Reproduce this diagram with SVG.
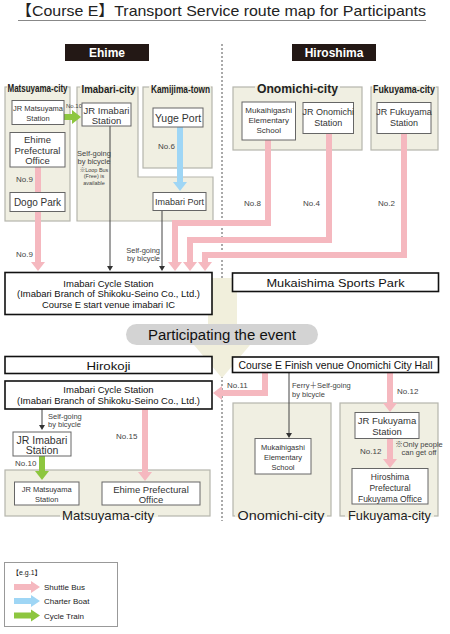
<svg xmlns="http://www.w3.org/2000/svg" width="450" height="634" viewBox="0 0 450 634">
<defs>
<style>
text{font-family:"Liberation Sans",Arial,"Noto Sans CJK JP",sans-serif;fill:#222}
.region{fill:#f0efe2;stroke:#b5b5ac;stroke-width:1.2}
.gap{fill:#f0efe2}
.node{fill:#fff;stroke:#666;stroke-width:1}
.main{fill:#fff;stroke:#111;stroke-width:1.6}
.pink{stroke:#f5b8bf;stroke-width:6;fill:none}
.blue{stroke:#9fd6f5;stroke-width:6;fill:none}
.green{stroke:#8dc63f;stroke-width:6;fill:none}
.thin{stroke:#444;stroke-width:1;fill:none}
.lbl{fill:#444}
.nt{fill:#333;text-anchor:middle}
.rl{font-weight:bold;text-anchor:middle}
.rb{text-anchor:middle;font-size:13px}
.mt{text-anchor:middle;fill:#111}
.hdr{fill:#231815}
.hdrt{fill:#fff;font-weight:bold;font-size:12px;text-anchor:middle}
</style>
<marker id="hp" markerUnits="userSpaceOnUse" markerWidth="9" markerHeight="14" refX="0" refY="7" orient="auto"><path d="M0,0L9,7L0,14z" fill="#f5b8bf"/></marker>
<marker id="hb" markerUnits="userSpaceOnUse" markerWidth="9" markerHeight="14" refX="0" refY="7" orient="auto"><path d="M0,0L9,7L0,14z" fill="#9fd6f5"/></marker>
<marker id="hg" markerUnits="userSpaceOnUse" markerWidth="9" markerHeight="14" refX="0" refY="7" orient="auto"><path d="M0,0L9,7L0,14z" fill="#8dc63f"/></marker>
<marker id="hk" markerUnits="userSpaceOnUse" markerWidth="5" markerHeight="6" refX="0" refY="3" orient="auto"><path d="M0,0L5,3L0,6z" fill="#333"/></marker>
</defs>

<!-- title -->
<g id="title">
<text x="16" y="16" font-size="15" textLength="410" lengthAdjust="spacingAndGlyphs">【Course E】Transport Service route map for Participants</text>
<line x1="18" y1="20.5" x2="426" y2="20.5" stroke="#888" stroke-width="1"/>
</g>

<!-- divider -->
<line x1="222" y1="44" x2="222" y2="521" stroke="#555" stroke-width="1" stroke-dasharray="2,2"/>

<g id="hdr-ehime"><rect class="hdr" x="65" y="44" width="84" height="17"/><text class="hdrt" x="107" y="57">Ehime</text></g>
<g id="hdr-hiroshima"><rect class="hdr" x="292" y="44" width="84" height="17"/><text class="hdrt" x="334" y="57">Hiroshima</text></g>

<!-- regions -->
<g id="region-matsuyama-top"><rect class="region" x="5" y="87" width="65" height="134"/><rect class="gap" x="7" y="85.8" width="61" height="2.4"/><text class="rl" x="37.5" y="92" font-size="10" textLength="60" lengthAdjust="spacingAndGlyphs">Matsuyama-city</text></g>
<g id="region-imabari"><path class="region" d="M77,87H138V177H213V221H77Z"/><rect class="gap" x="80" y="85.8" width="57" height="2.4"/><text class="rl" x="108.5" y="93" font-size="11" textLength="54" lengthAdjust="spacingAndGlyphs">Imabari-city</text></g>
<g id="region-kamijima"><rect class="region" x="143" y="87" width="69" height="81"/><rect class="gap" x="149" y="85.8" width="62" height="2.4"/><text class="rl" x="180.5" y="92.5" font-size="10" textLength="59" lengthAdjust="spacingAndGlyphs">Kamijima-town</text></g>
<g id="region-onomichi-top"><rect class="region" x="233" y="87" width="129" height="63"/><rect class="gap" x="255" y="85.8" width="85" height="2.4"/><text class="rl" x="297.5" y="92.5" font-size="12" textLength="81" lengthAdjust="spacingAndGlyphs">Onomichi-city</text></g>
<g id="region-fukuyama-top"><rect class="region" x="371" y="87" width="67" height="63"/><rect class="gap" x="372" y="85.8" width="64" height="2.4"/><text class="rl" x="404" y="92.5" font-size="10" textLength="62" lengthAdjust="spacingAndGlyphs">Fukuyama-city</text></g>

<g id="region-matsuyama-bottom"><rect class="region" x="5" y="470" width="205" height="46"/><rect class="gap" x="60" y="514.8" width="98" height="2.4"/><text class="rb" x="108" y="520" textLength="92" lengthAdjust="spacingAndGlyphs">Matsuyama-city</text></g>
<g id="region-onomichi-bottom"><rect class="region" x="233" y="403" width="98" height="113"/><rect class="gap" x="235" y="514.8" width="92" height="2.4"/><text class="rb" x="281" y="520" textLength="87" lengthAdjust="spacingAndGlyphs">Onomichi-city</text></g>
<g id="region-fukuyama-bottom"><rect class="region" x="340" y="403" width="98" height="113"/><rect class="gap" x="345" y="514.8" width="89" height="2.4"/><text class="rb" x="389.5" y="520" textLength="83" lengthAdjust="spacingAndGlyphs">Fukuyama-city</text></g>

<!-- event flow -->
<polygon id="flow" points="208,278 237,278 237,345 250,345 222,378 194,345 208,345" fill="#f1efdc"/>

<!-- connectors -->
<g id="connectors">
<path class="pink" d="M38,167V262" marker-end="url(#hp)"/>
<path class="pink" d="M268,140V223H175V262" marker-end="url(#hp)"/>
<path class="pink" d="M329,133V240H190V262" marker-end="url(#hp)"/>
<path class="pink" d="M404,133V255H205V262" marker-end="url(#hp)"/>
<path class="blue" d="M180,127V182" marker-end="url(#hb)"/>
<path class="green" d="M64,117H72" marker-end="url(#hg)"/>
<path class="thin" d="M110,126V266" marker-end="url(#hk)"/>
<path class="thin" d="M162,210V266" marker-end="url(#hk)"/>

<path class="pink" d="M265,372V393H222" marker-end="url(#hp)"/>
<path class="pink" d="M145,409V472" marker-end="url(#hp)"/>
<path class="pink" d="M390,372V403" marker-end="url(#hp)"/>
<path class="pink" d="M390,437V459" marker-end="url(#hp)"/>
<path class="green" d="M42,456V471" marker-end="url(#hg)"/>
<path class="thin" d="M42,409V425" marker-end="url(#hk)"/>
<path class="thin" d="M289,372V433" marker-end="url(#hk)"/>

<text class="lbl" x="66" y="108" font-size="6">No.10</text>
<text class="lbl" x="16" y="182" font-size="8">No.9</text>
<text class="lbl" x="16" y="257" font-size="8">No.9</text>
<text class="lbl" x="94" y="156" text-anchor="middle" font-size="7.5">Self-going</text>
<text class="lbl" x="94" y="163.5" text-anchor="middle" font-size="7.5">by bicycle</text>
<text class="lbl" x="94" y="171.5" text-anchor="middle" font-size="5.5">※Loop Bus</text>
<text class="lbl" x="94" y="178" text-anchor="middle" font-size="5.5">(Free) is</text>
<text class="lbl" x="94" y="184.5" text-anchor="middle" font-size="5.5">available</text>
<text class="lbl" x="158" y="149" font-size="8">No.6</text>
<text class="lbl" x="160" y="253" text-anchor="end" font-size="7.5">Self-going</text>
<text class="lbl" x="160" y="261" text-anchor="end" font-size="7.5">by bicycle</text>
<text class="lbl" x="244" y="206" font-size="8">No.8</text>
<text class="lbl" x="303" y="206" font-size="8">No.4</text>
<text class="lbl" x="378" y="206" font-size="8">No.2</text>

<text class="lbl" x="227" y="388" font-size="8">No.11</text>
<text class="lbl" x="292" y="388" font-size="7.5">Ferry＋Self-going</text>
<text class="lbl" x="292" y="397" font-size="7.5">by bicycle</text>
<text class="lbl" x="397" y="394" font-size="8">No.12</text>
<text class="lbl" x="360" y="454" font-size="8">No.12</text>
<text class="lbl" x="419" y="447" text-anchor="middle" font-size="7.5">※Only people</text>
<text class="lbl" x="419" y="455" text-anchor="middle" font-size="7.5">can get off</text>
<text class="lbl" x="48" y="419" font-size="7.5">Self-going</text>
<text class="lbl" x="48" y="427" font-size="7.5">by bicycle</text>
<text class="lbl" x="15" y="466" font-size="8">No.10</text>
<text class="lbl" x="116" y="439" font-size="8">No.15</text>
</g>

<!-- nodes top -->
<g id="jr-matsuyama"><rect class="node" x="12" y="100.5" width="52" height="24"/><text class="nt" x="38" y="111" font-size="7.5">JR Matsuyama</text><text class="nt" x="38" y="121" font-size="7.5">Station</text></g>
<g id="ehime-pref"><rect class="node" x="10" y="132.5" width="55" height="34.5"/><text class="nt" x="37.5" y="143" font-size="9.5">Ehime</text><text class="nt" x="37.5" y="153.5" font-size="9.5">Prefectural</text><text class="nt" x="37.5" y="164" font-size="9.5">Office</text></g>
<g id="dogo-park"><rect class="node" x="10" y="192.5" width="55" height="19"/><text class="nt" x="37.5" y="206" font-size="10">Dogo Park</text></g>
<g id="jr-imabari"><rect class="node" x="82" y="103" width="49" height="23"/><text class="nt" x="106.5" y="113.5" font-size="9.5">JR Imabari</text><text class="nt" x="106.5" y="123.5" font-size="9.5">Station</text></g>
<g id="yuge-port"><rect class="node" x="153" y="108" width="50" height="19"/><text class="nt" x="178" y="121.5" font-size="10.5">Yuge Port</text></g>
<g id="imabari-port"><rect class="node" x="153" y="192.5" width="53" height="18"/><text class="nt" x="179.5" y="205" font-size="9">Imabari Port</text></g>
<g id="mukaihigashi"><rect class="node" x="242" y="102" width="53.5" height="38"/><text class="nt" x="268.7" y="113" font-size="8">Mukaihigashi</text><text class="nt" x="268.7" y="123" font-size="8">Elementary</text><text class="nt" x="268.7" y="133" font-size="8">School</text></g>
<g id="jr-onomichi"><rect class="node" x="303" y="102.5" width="50.5" height="31"/><text class="nt" x="328.2" y="114.5" font-size="9">JR Onomichi</text><text class="nt" x="328.2" y="126" font-size="9">Station</text></g>
<g id="jr-fukuyama"><rect class="node" x="377" y="102.5" width="54" height="31"/><text class="nt" x="404" y="114.5" font-size="9">JR Fukuyama</text><text class="nt" x="404" y="126" font-size="9">Station</text></g>

<!-- main boxes -->
<g id="start-station"><rect class="main" x="5" y="272.5" width="207" height="42"/><text class="mt" x="108.5" y="287" font-size="9.5">Imabari Cycle Station</text><text class="mt" x="108.5" y="297" font-size="9.5" textLength="183" lengthAdjust="spacingAndGlyphs">(Imabari Branch of Shikoku-Seino Co., Ltd.)</text><text class="mt" x="108.5" y="308" font-size="9.5" textLength="133" lengthAdjust="spacingAndGlyphs">Course E start venue imabari IC</text></g>
<g id="mukaishima"><rect class="main" x="232.5" y="273" width="206" height="18.5"/><text class="mt" x="335.5" y="287" font-size="11.5" textLength="138" lengthAdjust="spacingAndGlyphs">Mukaishima Sports Park</text></g>
<g id="event"><rect x="126" y="324" width="192" height="21" rx="10.5" fill="#d3d3d3"/><text class="mt" x="222" y="340" font-size="14" textLength="148" lengthAdjust="spacingAndGlyphs">Participating the event</text></g>
<g id="hirokoji"><rect class="main" x="5" y="356.5" width="207" height="17"/><text class="mt" x="108.5" y="369.5" font-size="11.5" textLength="44" lengthAdjust="spacingAndGlyphs">Hirokoji</text></g>
<g id="cycle-station-2"><rect class="main" x="5" y="381" width="207" height="28"/><text class="mt" x="108.5" y="393" font-size="9.5">Imabari Cycle Station</text><text class="mt" x="108.5" y="404" font-size="9.5" textLength="183" lengthAdjust="spacingAndGlyphs">(Imabari Branch of Shikoku-Seino Co., Ltd.)</text></g>
<g id="finish"><rect class="main" x="232.5" y="357" width="206" height="15.5"/><text class="mt" x="335.5" y="368.5" font-size="10.5" textLength="194" lengthAdjust="spacingAndGlyphs">Course E Finish venue Onomichi City Hall</text></g>

<!-- nodes bottom -->
<g id="jr-imabari-2"><rect class="node" x="13" y="432" width="58" height="24"/><text class="nt" x="42" y="443.5" font-size="10.5">JR Imabari</text><text class="nt" x="42" y="454" font-size="10.5">Station</text></g>
<g id="jr-matsuyama-2"><rect class="node" x="14.5" y="482" width="64.5" height="23"/><text class="nt" x="46.7" y="492" font-size="7.5">JR Matsuyama</text><text class="nt" x="46.7" y="502" font-size="7.5">Station</text></g>
<g id="ehime-pref-2"><rect class="node" x="102" y="482" width="98" height="23"/><text class="nt" x="151" y="493" font-size="9.5">Ehime Prefectural</text><text class="nt" x="151" y="503" font-size="9.5">Office</text></g>
<g id="mukaihigashi-2"><rect class="node" x="255" y="438.5" width="56" height="35.5"/><text class="nt" x="283" y="450" font-size="7.5">Mukaihigashi</text><text class="nt" x="283" y="460" font-size="7.5">Elementary</text><text class="nt" x="283" y="470" font-size="7.5">School</text></g>
<g id="jr-fukuyama-2"><rect class="node" x="355" y="412.5" width="64" height="26"/><text class="nt" x="387" y="424" font-size="9.5">JR Fukuyama</text><text class="nt" x="387" y="435" font-size="9.5">Station</text></g>
<g id="fukuyama-office"><rect class="node" x="352" y="468.5" width="76" height="35.5"/><text class="nt" x="390" y="479.5" font-size="8.5">Hiroshima</text><text class="nt" x="390" y="490.5" font-size="8.5">Prefectural</text><text class="nt" x="390" y="501.5" font-size="8.5">Fukuyama Office</text></g>

<!-- legend -->
<g id="legend">
<rect x="4.5" y="562.5" width="113" height="64" fill="#fff" stroke="#999" stroke-width="1"/>
<text x="12" y="575" font-size="7" fill="#333">【e.g.1】</text>
<polygon points="14,584 31,584 31,581 40,587 31,593 31,590 14,590" fill="#f5b8bf"/>
<polygon points="14,598 31,598 31,595 40,601 31,607 31,604 14,604" fill="#9fd6f5"/>
<polygon points="14,612.5 31,612.5 31,609.5 40,615.5 31,621.5 31,618.5 14,618.5" fill="#8dc63f"/>
<text x="44" y="590" font-size="8" fill="#333">Shuttle Bus</text>
<text x="44" y="604" font-size="8" fill="#333">Charter Boat</text>
<text x="44" y="618.5" font-size="8" fill="#333">Cycle Train</text>
</g>
</svg>
